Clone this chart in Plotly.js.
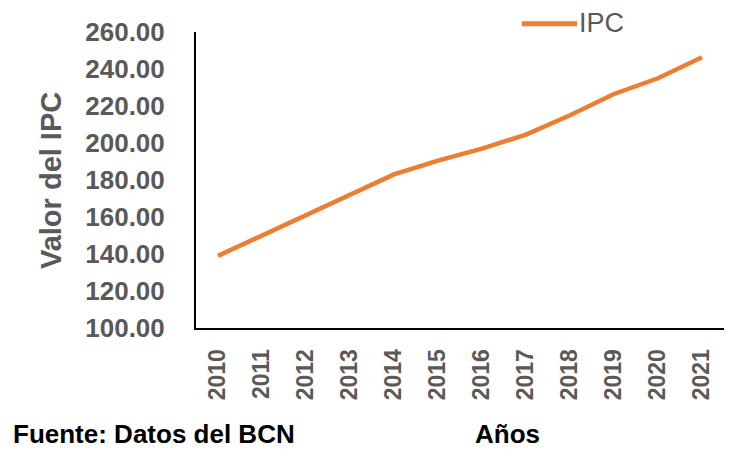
<!DOCTYPE html>
<html>
<head>
<meta charset="utf-8">
<script src="https://cdn.plot.ly/plotly-3.0.1.min.js"></script>
<style>
  html, body { margin: 0; padding: 0; background: #fff; }
  #chart { width: 740px; height: 450px; }
</style>
</head>
<body>
<div id="chart"></div>
<script>
// Consumer price index by year
const years = ['2010', '2011', '2012', '2013', '2014', '2015', '2016', '2017', '2018', '2019', '2020', '2021'];
const ipcValues = [139.0, 150.0, 161.0, 172.5, 183.0, 190.5, 197.0, 204.5, 215.0, 226.5, 235.0, 246.3];
const seriesName = 'IPC';
const yTitle = 'Valor del IPC';
const xTitle = 'Años';
const sourceNote = 'Fuente: Datos del BCN';

const orange = '#ED7D31';
const grey = '#595959';
const font = 'Liberation Sans, Arial, sans-serif';

const trace = {
  x: years,
  y: ipcValues,
  type: 'scatter',
  mode: 'lines',
  name: seriesName,
  line: { color: orange, width: 4.5, shape: 'linear' },
  showlegend: false,
  hoverinfo: 'x+y'
};

const layout = {
  width: 740,
  height: 450,
  margin: { l: 196, r: 16, t: 32, b: 122, pad: 0 },
  paper_bgcolor: '#ffffff',
  plot_bgcolor: '#ffffff',
  font: { family: font, color: grey },
  showlegend: false,
  xaxis: {
    type: 'category',
    range: [-0.5, 11.5],
    tickangle: -90,
    showgrid: false,
    zeroline: false,
    showline: true,
    linecolor: '#000000',
    linewidth: 2,
    ticks: '',
    ticklabelstandoff: 10,
    tickfont: { family: font, size: 23, color: grey, weight: 'bold' }
  },
  yaxis: {
    range: [100, 260],
    dtick: 20,
    tick0: 100,
    tickformat: '.2f',
    showgrid: false,
    zeroline: false,
    showline: true,
    linecolor: '#000000',
    linewidth: 2,
    ticks: '',
    ticklabelstandoff: 24,
    tickfont: { family: font, size: 26, color: grey, weight: 'bold' }
  },
  shapes: [
    // legend swatch
    {
      type: 'line', xref: 'paper', yref: 'paper',
      x0: 0.6174, x1: 0.7216, y0: 1.028, y1: 1.028,
      line: { color: orange, width: 5 }
    }
  ],
  annotations: [
    {
      text: seriesName, xref: 'paper', yref: 'paper',
      x: 0.722, y: 1.0304, xanchor: 'left', yanchor: 'middle',
      showarrow: false,
      font: { family: font, size: 27, color: grey }
    },
    {
      text: yTitle, xref: 'paper', yref: 'paper',
      x: -0.2745, y: 0.4966, xanchor: 'center', yanchor: 'middle',
      textangle: -90, showarrow: false,
      font: { family: font, size: 29, color: grey, weight: 'bold' }
    },
    {
      text: xTitle, xref: 'paper', yref: 'paper',
      x: 0.5909, y: -0.358, xanchor: 'center', yanchor: 'middle',
      showarrow: false,
      font: { family: font, size: 26, color: '#000000', weight: 'bold' }
    },
    {
      text: sourceNote, xref: 'paper', yref: 'paper',
      x: -0.351, y: -0.358, xanchor: 'left', yanchor: 'middle',
      showarrow: false,
      font: { family: font, size: 26, color: '#000000', weight: 'bold' }
    }
  ]
};

Plotly.newPlot('chart', [trace], layout, { displayModeBar: false, staticPlot: true });
</script>
</body>
</html>
